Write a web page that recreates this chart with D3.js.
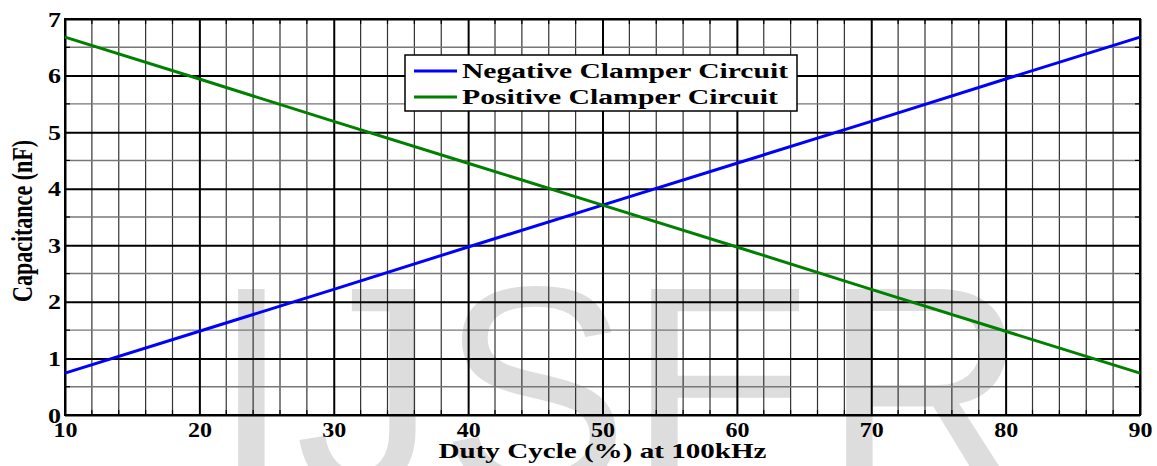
<!DOCTYPE html>
<html>
<head>
<meta charset="utf-8">
<script src="https://cdn.jsdelivr.net/npm/d3@7/dist/d3.min.js"></script>
<style>
  html, body { margin: 0; padding: 0; background: #fff; }
  svg { display: block; }
  text { font-family: "Liberation Serif", "Times New Roman", serif; font-weight: bold; }
</style>
</head>
<body>
<svg id="chart" width="1157" height="466"></svg>
<script>
// Duty cycle (%) at 100 kHz
const dutyCycle = [10, 20, 30, 40, 50, 60, 70, 80, 90];
// Capacitance (nF) for each circuit
const negativeClamper = [0.74, 1.48, 2.22, 2.97, 3.71, 4.45, 5.19, 5.94, 6.68];
const positiveClamper = [6.68, 5.94, 5.19, 4.45, 3.71, 2.97, 2.22, 1.48, 0.74];
// Axis ticks
const xTicks = [10, 20, 30, 40, 50, 60, 70, 80, 90];
const yTicks = [0, 1, 2, 3, 4, 5, 6, 7];
const seriesNames = ["Negative Clamper Circuit", "Positive Clamper Circuit"];
// Background watermark letters
const watermarkLetters = ["I", "J", "S", "E", "R"];

const svg = d3.select("#chart");
const margin = { left: 65, top: 19, right: 17, bottom: 51 };
const W = 1157, H = 466;
const x = d3.scaleLinear().domain([10, 90]).range([margin.left, W - margin.right]);
const y = d3.scaleLinear().domain([0, 7]).range([H - margin.bottom, margin.top]);
const [x0, x1] = x.range();
const [y0, y1] = y.range();

// Watermark, drawn behind everything (each letter placed on its own)
const wmScale = 0.97;
const wmX = [212, 295, 440, 628, 823];
const wm = svg.append("g").attr("transform", `scale(${wmScale},1)`);
watermarkLetters.forEach((ch, i) => {
  wm.append("text")
    .attr("x", wmX[i] / wmScale).attr("y", 490)
    .style("font-family", "'Liberation Sans', Arial, sans-serif")
    .style("font-weight", "normal")
    .style("font-size", "292px")
    .attr("fill", "#dddddd")
    .text(ch);
});

// Minor grid
const xMinor = d3.range(10, 90.001, 2).filter(v => v % 10 !== 0);
const yMinor = d3.range(0.5, 7, 1);
const grid = svg.append("g");
grid.selectAll(".vx").data(xMinor).join("line")
  .attr("x1", d => x(d)).attr("x2", d => x(d)).attr("y1", y1).attr("y2", y0)
  .attr("stroke", "#333").attr("stroke-width", 1.2);
grid.selectAll(".hy").data(yMinor).join("line")
  .attr("x1", x0).attr("x2", x1).attr("y1", d => y(d)).attr("y2", d => y(d))
  .attr("stroke", "#777").attr("stroke-width", 1.4);

// Major grid via axes
const xGrid = d3.axisBottom(x).tickValues(xTicks).tickSize(-(y0 - y1)).tickFormat("");
svg.append("g").attr("transform", `translate(0,${y0})`).call(xGrid)
  .call(g => g.select(".domain").remove())
  .call(g => g.selectAll("line").attr("stroke", "#000").attr("stroke-width", 2));
const yGrid = d3.axisLeft(y).tickValues(yTicks).tickSize(-(x1 - x0)).tickFormat("");
svg.append("g").attr("transform", `translate(${x0},0)`).call(yGrid)
  .call(g => g.select(".domain").remove())
  .call(g => g.selectAll("line").attr("stroke", "#000").attr("stroke-width", 2));

// Small inward ticks at minor positions
const tk = svg.append("g").attr("stroke", "#000").attr("stroke-width", 1.2);
xMinor.forEach(v => {
  tk.append("line").attr("x1", x(v)).attr("x2", x(v)).attr("y1", y0).attr("y2", y0 - 5);
  tk.append("line").attr("x1", x(v)).attr("x2", x(v)).attr("y1", y1).attr("y2", y1 + 5);
});
yMinor.forEach(v => {
  tk.append("line").attr("x1", x0).attr("x2", x0 + 5).attr("y1", y(v)).attr("y2", y(v));
  tk.append("line").attr("x1", x1).attr("x2", x1 - 5).attr("y1", y(v)).attr("y2", y(v));
});

// Frame
svg.append("rect").attr("x", x0).attr("y", y1).attr("width", x1 - x0).attr("height", y0 - y1)
  .attr("fill", "none").attr("stroke", "#000").attr("stroke-width", 2);

// Data lines
const line = d3.line().x((d, i) => x(dutyCycle[i])).y(d => y(d));
svg.append("path").datum(negativeClamper).attr("d", line)
  .attr("fill", "none").attr("stroke", "#0000ff").attr("stroke-width", 3);
svg.append("path").datum(positiveClamper).attr("d", line)
  .attr("fill", "none").attr("stroke", "#008000").attr("stroke-width", 3);

// Tick labels
const xAx = svg.append("g").attr("transform", `translate(0,${y0})`)
  .call(d3.axisBottom(x).tickValues(xTicks).tickFormat(d3.format("d")).tickSize(0).tickPadding(0));
xAx.select(".domain").remove();
xAx.selectAll("text")
  .attr("y", 22).attr("dy", 0)
  .style("font-family", "'Liberation Serif', serif").style("font-size", "20px")
  .attr("fill", "#000")
  .attr("textLength", 24).attr("lengthAdjust", "spacingAndGlyphs");

const yAx = svg.append("g").attr("transform", `translate(${x0},0)`)
  .call(d3.axisLeft(y).tickValues(yTicks).tickFormat(d3.format("d")).tickSize(0).tickPadding(0));
yAx.select(".domain").remove();
yAx.selectAll("text")
  .attr("x", -4).attr("dy", "0.35em")
  .style("font-family", "'Liberation Serif', serif").style("font-size", "20px")
  .attr("fill", "#000")
  .attr("textLength", 13).attr("lengthAdjust", "spacingAndGlyphs");

// Axis titles
svg.append("text")
  .attr("x", (x0 + x1) / 2).attr("y", 458)
  .attr("text-anchor", "middle")
  .style("font-size", "22px")
  .attr("textLength", 328).attr("lengthAdjust", "spacingAndGlyphs")
  .text("Duty Cycle (%) at 100kHz");

svg.append("text")
  .attr("transform", `translate(32,221) scale(1.3,1) rotate(-90)`)
  .attr("text-anchor", "middle")
  .style("font-size", "22px")
  .attr("textLength", 162).attr("lengthAdjust", "spacingAndGlyphs")
  .text("Capacitance (nF)");

// Legend
const lg = svg.append("g");
lg.append("rect").attr("x", 405).attr("y", 55).attr("width", 392).attr("height", 56)
  .attr("fill", "#fff").attr("stroke", "#000").attr("stroke-width", 1.5);
const legendColors = ["#0000ff", "#008000"];
const legendY = [71, 97];
const legendW = [326, 316];
seriesNames.forEach((name, i) => {
  lg.append("line").attr("x1", 414).attr("x2", 457).attr("y1", legendY[i]).attr("y2", legendY[i])
    .attr("stroke", legendColors[i]).attr("stroke-width", 3);
  lg.append("text").attr("x", 462).attr("y", legendY[i] + 6.5)
    .style("font-size", "20px")
    .attr("textLength", legendW[i]).attr("lengthAdjust", "spacingAndGlyphs")
    .text(name);
});
</script>
</body>
</html>
